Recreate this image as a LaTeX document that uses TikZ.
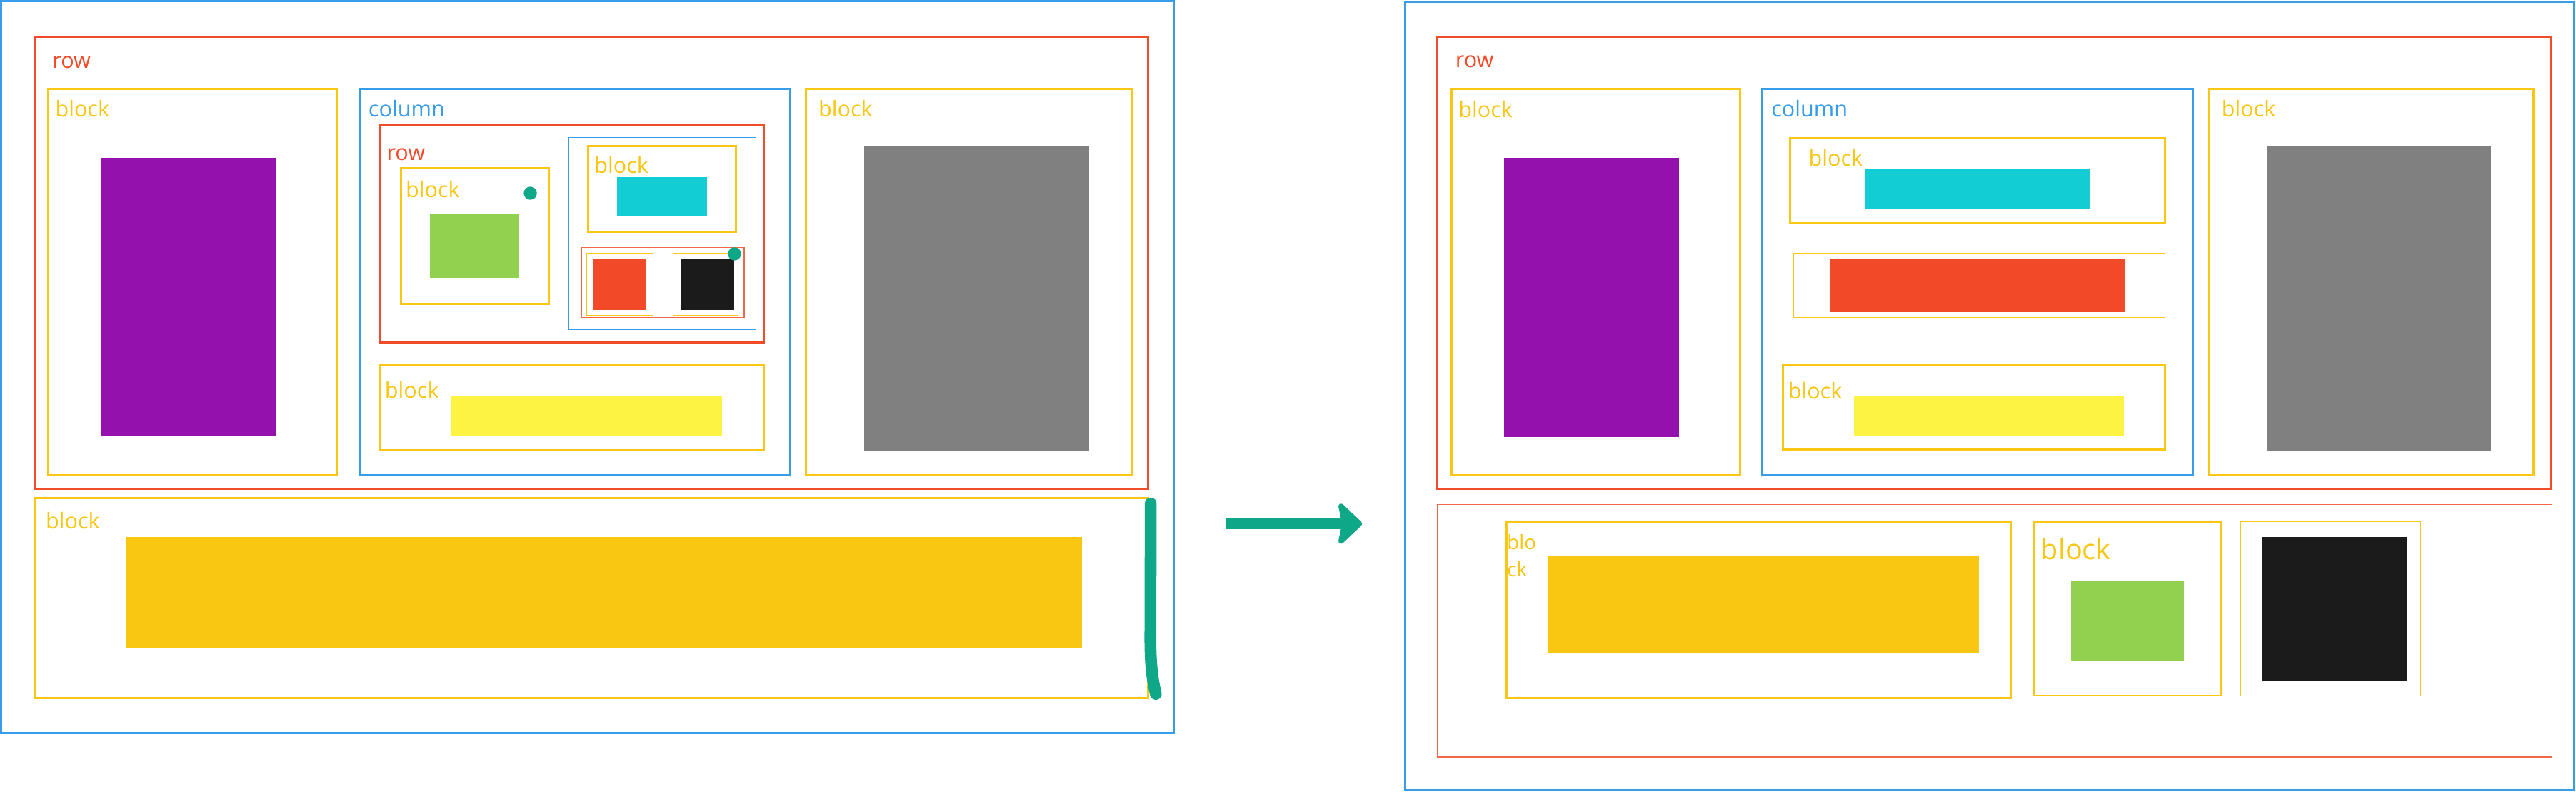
\documentclass[tikz,border=0pt]{standalone}
\usepackage{fontspec}
\setmainfont{Open Sans}
\usetikzlibrary{arrows.meta}
\tikzset{>=stealth}
\definecolor{rowred}{HTML}{F24B2A}
\definecolor{colblue}{HTML}{379CEC}
\definecolor{blockyellow}{HTML}{F9C713}
\definecolor{tealgreen}{HTML}{0EA888}
\definecolor{fillpurple}{HTML}{9411AD}
\definecolor{fillgray}{HTML}{808080}
\definecolor{fillgreen}{HTML}{92D050}
\definecolor{fillcyan}{HTML}{13CDD4}
\definecolor{fillred}{HTML}{F24A28}
\definecolor{fillblack}{HTML}{1B1B1B}
\definecolor{filllemon}{HTML}{FDF343}
\definecolor{fillgold}{HTML}{F9C712}
\tikzstyle{rowbox} = [rectangle, anchor = north west, draw = rowred, line width = 1.3, inner sep = 0, outer sep = 0]
\tikzstyle{thinrow} = [rowbox, line width = 0.6, draw = rowred!85]
\tikzstyle{colbox} = [rowbox, draw = colblue]
\tikzstyle{thincol} = [colbox, line width = 0.6]
\tikzstyle{blockbox} = [rowbox, draw = blockyellow]
\tikzstyle{thinblock} = [blockbox, line width = 0.6]
\tikzstyle{swatch} = [rectangle, anchor = north west, inner sep = 0, outer sep = 0]
\tikzstyle{tag} = [anchor = base west, inner sep = 0, outer sep = 0, font = \fontsize{13.3}{16}\selectfont]
\tikzstyle{dot} = [circle, fill = tealgreen, minimum size = 8, inner sep = 0]
\tikzstyle{flow} = [draw = tealgreen, line width = 6.5, -{Stealth[length = 16, width = 30, inset = 3, round]}]
\tikzstyle{scribble} = [draw = tealgreen, line width = 7.2, line cap = round]

\begin{document}
\begin{tikzpicture}[x = 1pt, y = -1pt]
    \useasboundingbox (0,0) rectangle (1568,481.7);
    % before
    \node (leftpanel) [colbox, minimum width = 713.7, minimum height = 445.5] at (0.7,0.7) {};
    \node (rowL) [rowbox, minimum width = 677.6, minimum height = 275.1] at (21.0,22.3) {};
    \node [tag, text = rowred] at (31.9,41.3) {row};
    \node (blockLa) [blockbox, minimum width = 175.6, minimum height = 234.9] at (29.4,54.3) {};
    \node [tag, text = blockyellow] at (33.7,71.2) {block};
    \node (purpleL) [swatch, fill = fillpurple, minimum width = 106.4, minimum height = 169.8] at (61.4,95.9) {};
    \node (columnL) [colbox, minimum width = 262.5, minimum height = 234.9] at (218.7,54.3) {};
    \node [tag, text = colblue] at (224.3,71.1) {column};
    \node (rowLin) [rowbox, minimum width = 233.5, minimum height = 131.9] at (231.3,76.4) {};
    \node [tag, text = rowred] at (235.4,97.7) {row};
    \node (blockLgreen) [blockbox, minimum width = 90.0, minimum height = 82.5] at (244.0,102.5) {};
    \node [tag, text = blockyellow] at (247.0,120.4) {block};
    \node (greenL) [swatch, fill = fillgreen, minimum width = 54.5, minimum height = 38.3] at (261.7,130.6) {};
    \node (colLin) [thincol, minimum width = 114.1, minimum height = 116.7] at (346.0,83.7) {};
    \node (blockLcyan) [blockbox, minimum width = 90.0, minimum height = 51.9] at (358.0,89.0) {};
    \node [tag, text = blockyellow] at (361.8,105.5) {block};
    \node (cyanL) [swatch, fill = fillcyan, minimum width = 54.7, minimum height = 24.3] at (375.8,107.6) {};
    \node (rowLsmall) [thinrow, minimum width = 99.0, minimum height = 42.6] at (354.0,150.7) {};
    \node (blockLred) [thinblock, minimum width = 40.5, minimum height = 37.7] at (357.0,154.2) {};
    \node (redL) [swatch, fill = fillred, minimum width = 32.2, minimum height = 31.4] at (361.0,157.2) {};
    \node (blockLblack) [thinblock, minimum width = 39.4, minimum height = 37.7] at (409.8,154.2) {};
    \node (blackL) [swatch, fill = fillblack, minimum width = 32.2, minimum height = 31.4] at (414.5,157.2) {};
    \node (blockLlemon) [blockbox, minimum width = 233.5, minimum height = 52.1] at (231.3,221.9) {};
    \node [tag, text = blockyellow] at (234.3,242.2) {block};
    \node (lemonL) [swatch, fill = filllemon, minimum width = 164.9, minimum height = 24.4] at (274.7,241.2) {};
    \node (blockLgray) [blockbox, minimum width = 198.7, minimum height = 234.9] at (490.4,54.3) {};
    \node [tag, text = blockyellow] at (498.2,71.1) {block};
    \node (grayL) [swatch, fill = fillgray, minimum width = 137.3, minimum height = 185.1] at (525.8,89.2) {};
    \node (blockLgold) [blockbox, minimum width = 677.0, minimum height = 121.6] at (21.6,303.3) {};
    \node [tag, text = blockyellow] at (27.9,322.1) {block};
    \node (goldL) [swatch, fill = fillgold, minimum width = 581.6, minimum height = 67.3] at (76.8,326.8) {};
    \node (dotA) [dot] at (322.8,117.6) {};
    \node (dotB) [dot] at (447.1,154.5) {};
    \draw [scribble] (700.4,306.5) -- (700.2,390) .. controls (700.3,408) and (702,416) .. (703.5,422.4);

    \coordinate (arrowtail) at (745.8,318.8);
    \coordinate (arrowtip) at (829.1,318.8);
    \draw [flow] (arrowtail) -- (arrowtip);

    % after
    \node (rightpanel) [colbox, minimum width = 711.5, minimum height = 480.0] at (855.2,0.9) {};
    \node (rowR) [rowbox, minimum width = 678.0, minimum height = 275.2] at (875.0,22.2) {};
    \node [tag, text = rowred] at (885.9,41.1) {row};
    \node (blockRa) [blockbox, minimum width = 175.4, minimum height = 234.9] at (883.7,54.3) {};
    \node [tag, text = blockyellow] at (887.8,71.4) {block};
    \node (purpleR) [swatch, fill = fillpurple, minimum width = 106.3, minimum height = 169.8] at (915.6,96.1) {};
    \node (columnR) [colbox, minimum width = 262.0, minimum height = 235.0] at (1072.8,54.3) {};
    \node [tag, text = colblue] at (1078.2,71.2) {column};
    \node (blockRcyan) [blockbox, minimum width = 228.3, minimum height = 51.9] at (1089.4,84.0) {};
    \node [tag, text = blockyellow] at (1100.9,100.9) {block};
    \node (cyanR) [swatch, fill = fillcyan, minimum width = 137.3, minimum height = 24.2] at (1134.8,102.7) {};
    \node (blockRred) [thinblock, minimum width = 226.2, minimum height = 39.1] at (1091.7,154.2) {};
    \node (redR) [swatch, fill = fillred, minimum width = 179.1, minimum height = 32.4] at (1114.2,157.4) {};
    \node (blockRlemon) [blockbox, minimum width = 232.3, minimum height = 51.8] at (1085.4,222.0) {};
    \node [tag, text = blockyellow] at (1088.4,242.6) {block};
    \node (lemonR) [swatch, fill = filllemon, minimum width = 164.2, minimum height = 24.3] at (1128.5,241.2) {};
    \node (blockRgray) [blockbox, minimum width = 197.3, minimum height = 235.1] at (1344.6,54.2) {};
    \node [tag, text = blockyellow] at (1352.3,70.9) {block};
    \node (grayR) [swatch, fill = fillgray, minimum width = 136.6, minimum height = 185.2] at (1379.8,89.1) {};
    \node (rowRlow) [thinrow, minimum width = 678.4, minimum height = 153.6] at (874.9,307.2) {};
    \node (blockRgold) [blockbox, minimum width = 306.7, minimum height = 107.0] at (917.1,318.0) {};
    \node [tag, anchor = north west, align = left, text = blockyellow, font = \fontsize{12}{16.4}\selectfont] at (917.4,325.6) {blo\\ck};
    \node (goldR) [swatch, fill = fillgold, minimum width = 262.4, minimum height = 59.3] at (942.1,338.6) {};
    \node (blockRgreen) [blockbox, minimum width = 114.4, minimum height = 105.3] at (1237.8,318.1) {};
    \node [tag, text = blockyellow, font = \fontsize{17.2}{20}\selectfont] at (1242.3,340.6) {block};
    \node (greenR) [swatch, fill = fillgreen, minimum width = 68.9, minimum height = 48.7] at (1260.5,353.9) {};
    \node (blockRblack) [thinblock, minimum width = 109.5, minimum height = 106.1] at (1363.7,317.6) {};
    \node (blackR) [swatch, fill = fillblack, minimum width = 89.0, minimum height = 87.7] at (1376.5,326.9) {};
\end{tikzpicture}
\end{document}
